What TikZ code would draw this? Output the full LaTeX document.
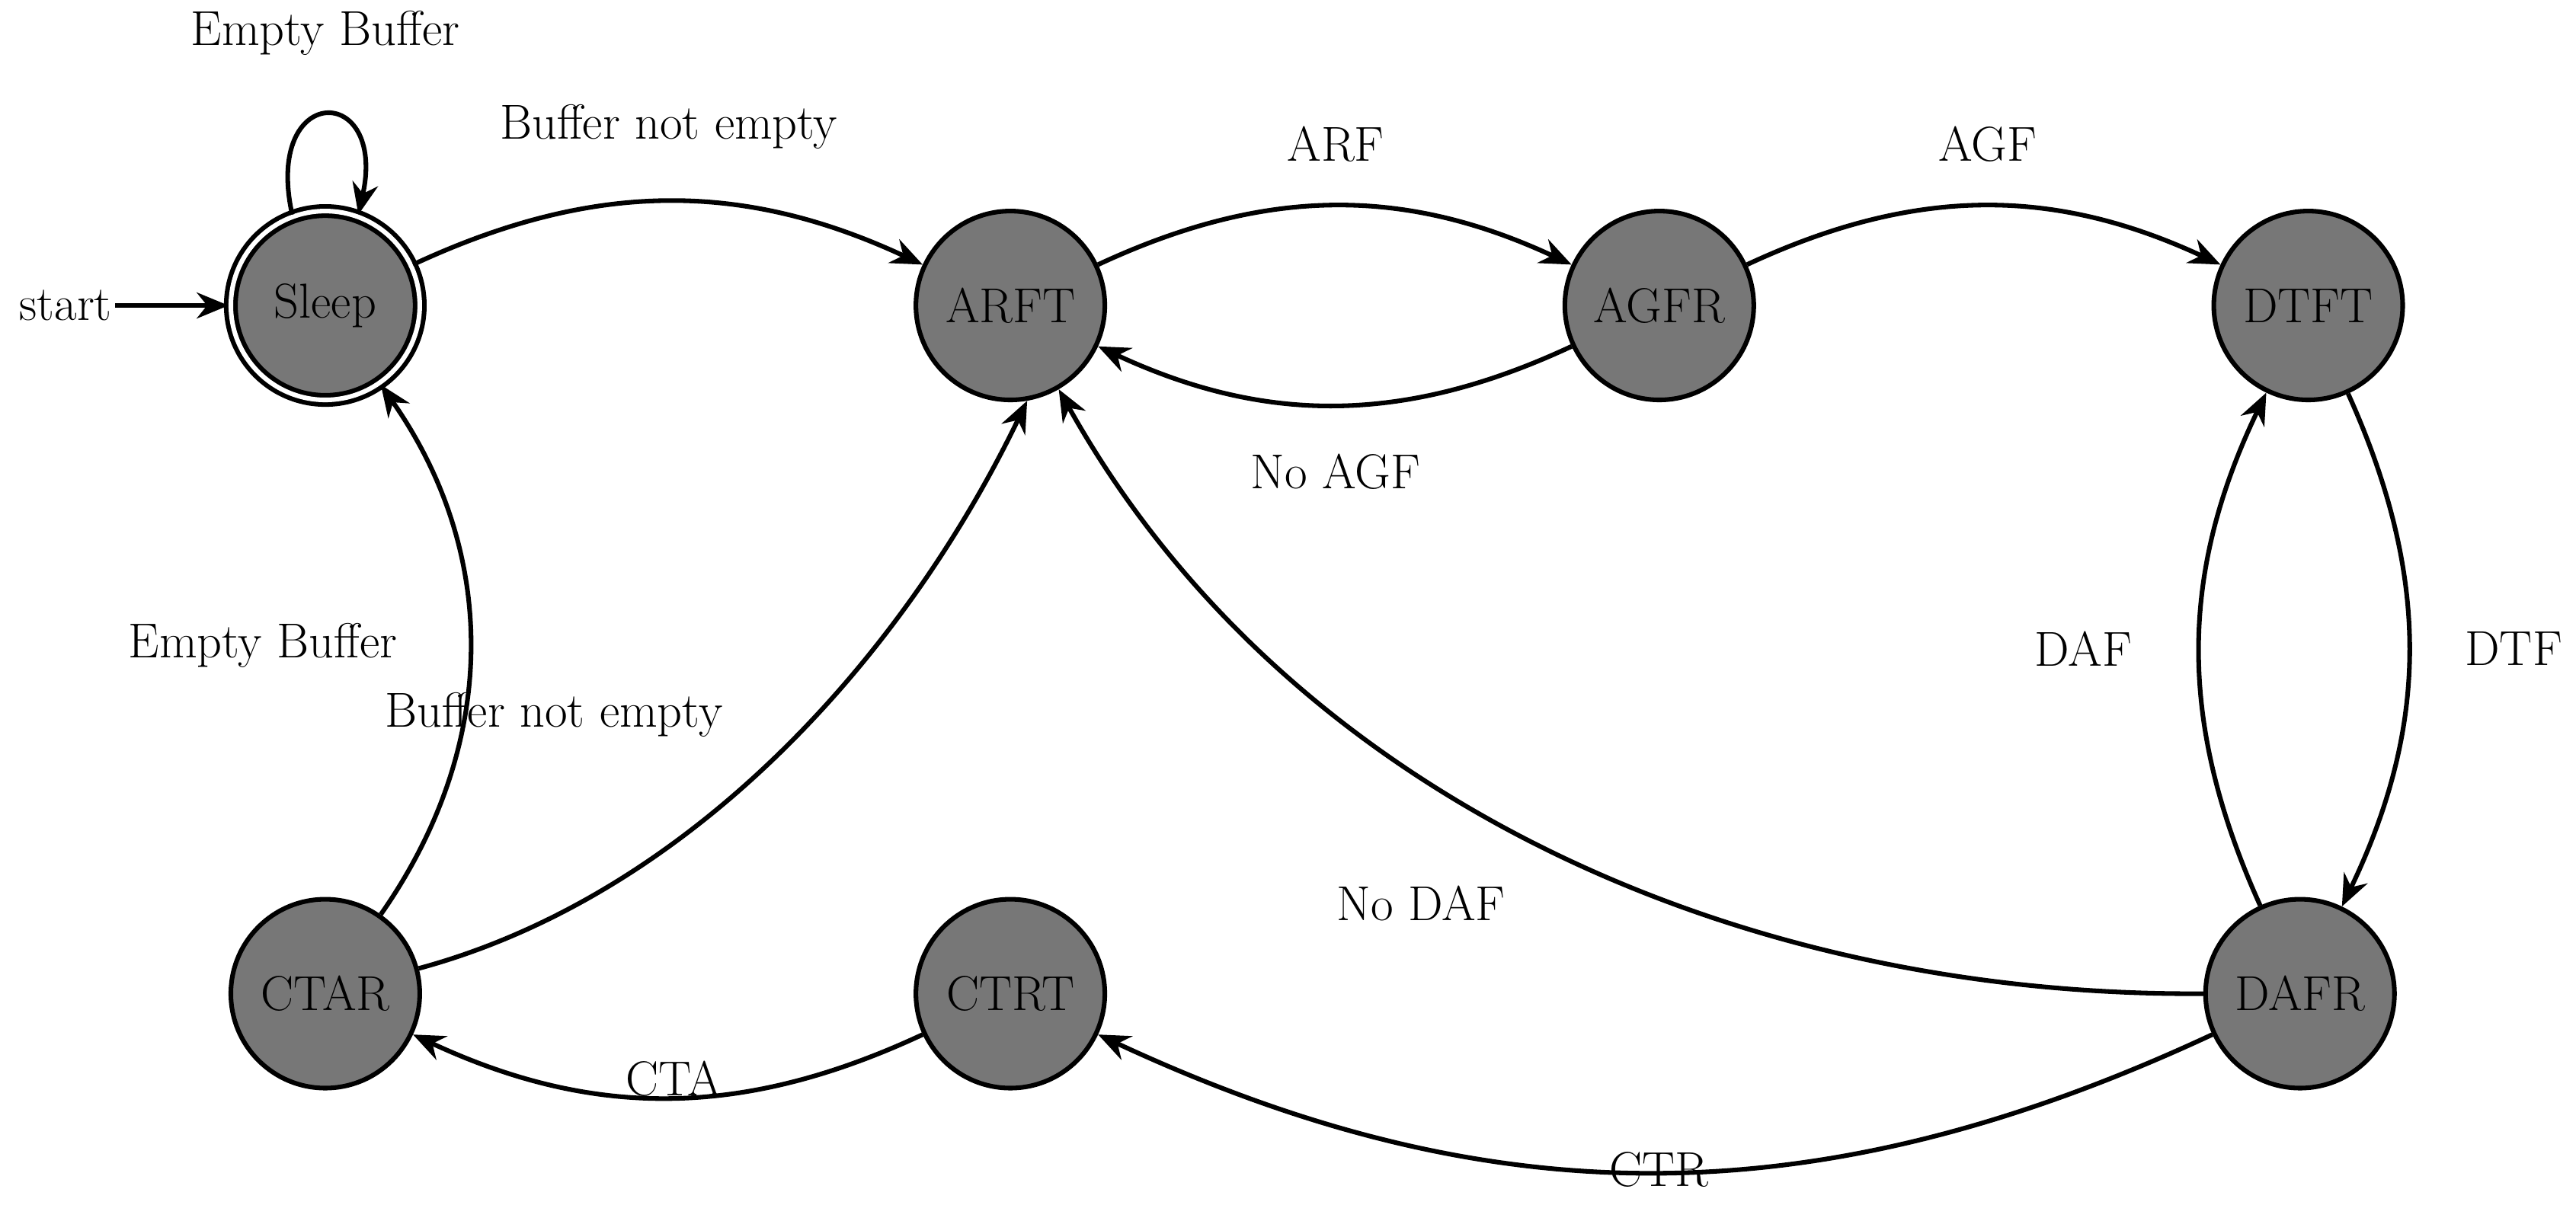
\documentclass[tikz,border=0pt]{standalone}
\usetikzlibrary{arrows.meta}
\definecolor{stfill}{HTML}{777777}
\begin{document}
\begin{tikzpicture}[x=0.02cm,y=-0.02cm,
  every node/.style={font=\fontsize{17}{20}\selectfont},
  st/.style={circle,draw,line width=1.6pt,fill=stfill,minimum size=2.3cm,inner sep=0pt},
  acc/.style={st,double,double distance=1.6pt},
  lbl/.style={inner sep=1pt},
  ar/.style={line width=1.6pt,-{Stealth[length=11pt,width=9pt]}}]
\useasboundingbox (0,0) rectangle (1568,743);
\node[acc] (sleep) at (198,186) {Sleep};
\node[st] (arft) at (615,186) {ARFT};
\node[st] (agfr) at (1010,186) {AGFR};
\node[st] (dtft) at (1405,186) {DTFT};
\node[st] (dafr) at (1400,605) {DAFR};
\node[st] (ctrt) at (615,605) {CTRT};
\node[st] (ctar) at (198,605) {CTAR};
\node[lbl] (start) at (40,186) {start};
\draw[ar] (start) -- (sleep);
\draw[ar] (sleep.110) .. controls (160,50) and (236,50) .. (sleep.70);
\node[lbl] at (198,20) {Empty Buffer};
\draw[ar] (sleep) to[bend left=25] (arft);
\node[lbl] at (407,77) {Buffer not empty};
\draw[ar] (arft) to[bend left=25] (agfr);
\node[lbl] at (813,88) {ARF};
\draw[ar] (agfr) to[bend left=25] (arft);
\node[lbl] at (813,287) {No AGF};
\draw[ar] (agfr) to[bend left=25] (dtft);
\node[lbl] at (1210,88) {AGF};
\draw[ar] (dtft) to[bend left=25] (dafr);
\node[lbl] at (1530,395) {DTF};
\draw[ar] (dafr) to[bend left=25] (dtft);
\node[lbl] at (1268,395) {DAF};
\draw[ar] (dafr.west) .. controls (1050,607) and (780,480) .. (arft.-60);
\node[lbl] at (865,550) {No DAF};
\draw[ar] (dafr) to[bend left=25] (ctrt);
\node[lbl] at (1010,712) {CTR};
\draw[ar] (ctrt) to[bend left=25] (ctar);
\node[lbl] at (410,657) {CTA};
\draw[ar] (ctar) to[bend right=35] (sleep);
\node[lbl] at (160,393) {Empty Buffer};
\draw[ar] (ctar) .. controls (420,545) and (550,400) .. (arft.-80);
\node[lbl] at (337,435) {Buffer not empty};
\end{tikzpicture}
\end{document}
